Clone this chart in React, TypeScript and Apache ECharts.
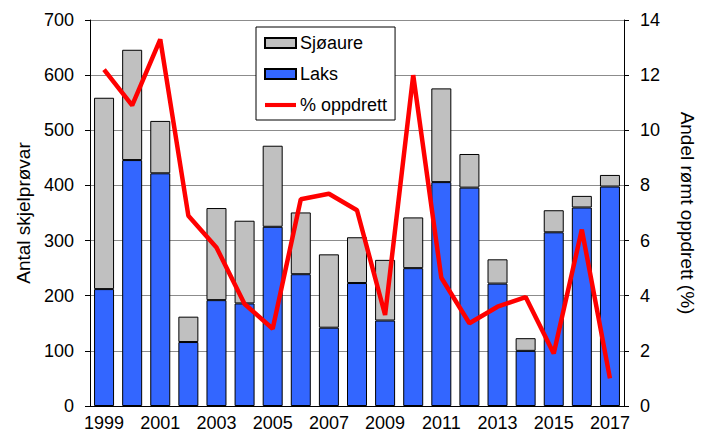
import React, { useEffect, useRef } from "react";
import * as echarts from "echarts";

const years = ["1999","2000","2001","2002","2003","2004","2005","2006","2007","2008","2009","2010","2011","2012","2013","2014","2015","2016","2017"];
const laks = [212, 446, 422, 116, 192, 186, 325, 239, 142, 223, 155, 250, 406, 396, 222, 100, 315, 360, 398];
const sjoaure = [347, 200, 95, 46, 167, 150, 147, 112, 133, 83, 110, 92, 170, 61, 44, 23, 40, 21, 21];
const oppdrett = [12.2, 10.9, 13.3, 6.9, 5.75, 3.7, 2.8, 7.5, 7.7, 7.1, 3.3, 12.0, 4.65, 3.0, 3.6, 3.95, 1.9, 6.4, 1.0];

const FONT = "'Liberation Sans', Arial, sans-serif";

export default function App() {
  const ref = useRef<HTMLDivElement>(null);
  useEffect(() => {
    if (!ref.current) return;
    const chart = echarts.init(ref.current, null, { renderer: "svg" });
    chart.setOption({
      animation: false,
      textStyle: { fontFamily: FONT, color: "#000" },
      grid: { left: 90, right: 60, top: 20, bottom: 31 },
      legend: {
        data: [
          { name: "Sjøaure", icon: "rect" },
          { name: "Laks", icon: "rect" },
          { name: "% oppdrett", icon: "path://M0,0L34,0L34,4.5L0,4.5Z", itemStyle: { color: "#FF0000", borderWidth: 0 } },
        ],
        orient: "vertical",
        left: 256,
        top: 27,
        itemWidth: 31,
        itemHeight: 10,
        itemGap: 13,
        padding: [7, 8, 6, 8],
        borderColor: "#000",
        borderWidth: 1,
        backgroundColor: "#fff",
        textStyle: { fontFamily: FONT, fontSize: 18, color: "#000", lineHeight: 18, padding: [0, 0, 0, -1] },
      },
      xAxis: {
        type: "category",
        data: years,
        axisLine: { lineStyle: { color: "#000", width: 1 } },
        axisTick: { interval: 0, length: 5, lineStyle: { color: "#000" } },
        axisLabel: { interval: 1, fontSize: 18, color: "#000", margin: 8, fontFamily: FONT },
      },
      yAxis: [
        {
          type: "value",
          min: 0,
          max: 700,
          interval: 100,
          name: "Antal skjelprøvar",
          nameLocation: "middle",
          nameGap: 57,
          nameTextStyle: { fontSize: 19, color: "#000", fontFamily: FONT },
          axisLine: { show: true, lineStyle: { color: "#000" } },
          axisTick: { show: true, length: 5, lineStyle: { color: "#000" } },
          axisLabel: { fontSize: 18, color: "#000", margin: 16, fontFamily: FONT },
          splitLine: { show: true, lineStyle: { color: "#8c8c8c", width: 1 } },
        },
        {
          type: "value",
          min: 0,
          max: 14,
          interval: 2,
          position: "right",
          name: "Andel rømt oppdrett (%)",
          nameLocation: "middle",
          nameRotate: -90,
          nameGap: 54,
          nameTextStyle: { fontSize: 19, color: "#000", fontFamily: FONT },
          axisLine: { show: true, lineStyle: { color: "#000" } },
          axisTick: { show: true, length: 5, lineStyle: { color: "#000" } },
          axisLabel: { fontSize: 18, color: "#000", margin: 16, fontFamily: FONT },
          splitLine: { show: false },
        },
      ],
      series: [
        {
          name: "Laks",
          type: "bar",
          stack: "total",
          data: laks,
          barWidth: 20,
          itemStyle: { color: "#3366FF", borderColor: "#000", borderWidth: 1 },
        },
        {
          name: "Sjøaure",
          type: "bar",
          stack: "total",
          data: sjoaure,
          barWidth: 20,
          itemStyle: { color: "#C0C0C0", borderColor: "#000", borderWidth: 1 },
        },
        {
          name: "% oppdrett",
          type: "line",
          yAxisIndex: 1,
          data: oppdrett,
          symbol: "none",
          lineStyle: { color: "#FF0000", width: 4.5 },
          itemStyle: { color: "#FF0000" },
          z: 5,
        },
      ],
    });
    return () => chart.dispose();
  }, []);
  return <div ref={ref} style={{ width: 705, height: 437, position: "absolute", left: 0, top: 0 }} />;
}
